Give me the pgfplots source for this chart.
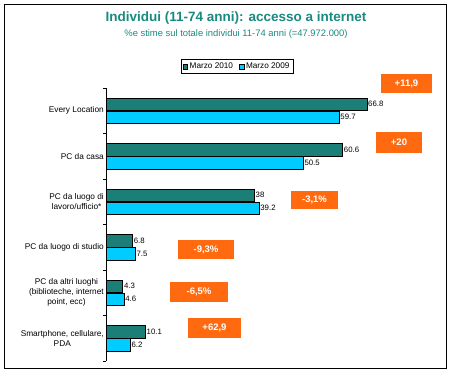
\documentclass[border=0pt]{standalone}
\usepackage{pgfplots}
\pgfplotsset{compat=1.18}
\usepackage{fontspec}
\setmainfont{Liberation Sans}
\definecolor{dteal}{HTML}{1B7F77}
\definecolor{lcyan}{HTML}{00CCFF}
\definecolor{ttl}{HTML}{1A8A80}
\definecolor{org}{HTML}{FF6A10}
\begin{document}
\begin{tikzpicture}[x=1pt,y=1pt]
\useasboundingbox (0,0) rectangle (450,373);
\draw[black, line width=0.8pt] (4,5) rectangle (446,369);
\node[font=\bfseries\fontsize{13.5}{14}\selectfont, text=ttl] at (236,355) {Individui (11-74 anni): accesso a internet};
\node[font=\fontsize{9.4}{10}\selectfont, text=ttl] at (236,339) {\%e stime sul totale individui 11-74 anni (=47.972.000)};
\begin{axis}[
  at={(106pt,12pt)}, anchor=south west,
  scale only axis, width=332pt, height=273pt,
  xbar, bar width=12.5pt,
  xmin=0, xmax=85,
  ymin=-0.5, ymax=5.5, y dir=reverse,
  axis y line=left, axis x line=none,
  axis line style={-, black, line width=0.8pt},
  ytick={0,1,2,3,4,5},
  yticklabels={Every Location, PC da casa, {PC da luogo di\\lavoro/ufficio*}, PC da luogo di studio, {PC da altri luoghi\\(biblioteche, internet\\point, ecc)}, {Smartphone, cellulare,\\PDA}},
  yticklabel style={align=center, font=\fontsize{8.3}{10}\selectfont, inner sep=2pt},
  major tick length=0pt,
  extra y ticks={-0.5,0.5,1.5,2.5,3.5,4.5,5.5},
  extra y tick labels={},
  extra y tick style={major tick length=3pt, tick align=outside, tick style={black, line width=0.6pt}},
  /pgf/number format/assume math mode=true,
  nodes near coords,
  every node near coord/.append style={font=\fontsize{7.8}{9}\selectfont, black, anchor=west, inner sep=1pt},
  legend style={at={(0.3946,1.0788)}, anchor=center, legend columns=2, font=\fontsize{8.2}{9}\selectfont, draw=black, inner sep=1.5pt, /tikz/every even column/.append style={column sep=4pt}},
  legend image code/.code={\draw[#1, draw=black, line width=0.3pt] (0pt,-2.4pt) rectangle (4.8pt,2.4pt);},
  clip=false,
]
\addplot[fill=dteal, draw=black, line width=0.6pt, bar shift=6.5pt] coordinates {(66.8,0) (60.6,1) (38,2) (6.8,3) (4.3,4) (10.1,5)};
\addplot[fill=lcyan, draw=black, line width=0.6pt, bar shift=-6.5pt] coordinates {(59.7,0) (50.5,1) (39.2,2) (7.5,3) (4.6,4) (6.2,5)};
\legend{Marzo 2010, Marzo 2009}
\end{axis}
\tikzset{ob/.style={fill=org, text=white, font=\bfseries\fontsize{9.5}{10}\selectfont, inner sep=0pt, anchor=center}}
\node[ob, minimum width=51pt, minimum height=19pt] at (406.5,289.5) {+11,9};
\node[ob, minimum width=46pt, minimum height=21pt] at (399,230.5) {+20};
\node[ob, minimum width=47pt, minimum height=18pt] at (314.5,173) {-3,1\%};
\node[ob, minimum width=56pt, minimum height=19pt] at (206,123.5) {-9,3\%};
\node[ob, minimum width=58pt, minimum height=20pt] at (199,81) {-6,5\%};
\node[ob, minimum width=53pt, minimum height=20pt] at (214.5,45) {+62,9};
\end{tikzpicture}
\end{document}
